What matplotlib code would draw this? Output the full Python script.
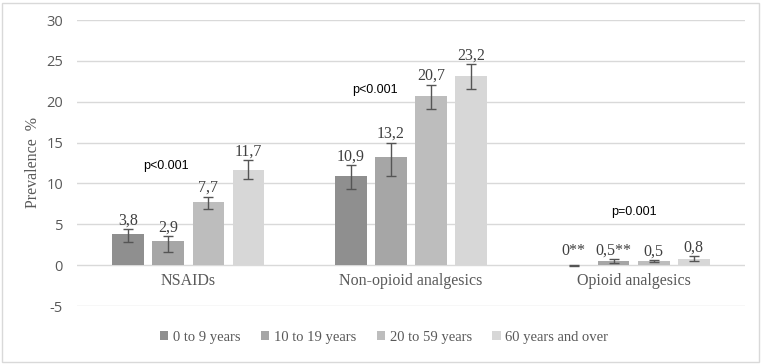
import matplotlib
matplotlib.use("Agg")
import matplotlib.pyplot as plt
import numpy as np
from matplotlib.patches import Rectangle

categories = ["NSAIDs", "Non-opioid analgesics", "Opioid analgesics"]
series = ["0 to 9 years", "10 to 19 years", "20 to 59 years", "60 years and over"]
values = [
    [3.8, 10.9, 0.0],
    [2.9, 13.2, 0.5],
    [7.7, 20.7, 0.5],
    [11.7, 23.2, 0.8],
]
err_low = [
    [1.0, 1.6, 0.1],
    [1.3, 2.3, 0.2],
    [0.8, 1.6, 0.15],
    [1.1, 1.6, 0.25],
]
err_high = [
    [0.6, 1.3, 0.0],
    [0.7, 1.8, 0.25],
    [0.7, 1.4, 0.15],
    [1.2, 1.4, 0.3],
]
value_labels = [
    ["3,8", "10,9", "0**"],
    ["2,9", "13,2", "0,5**"],
    ["7,7", "20,7", "0,5"],
    ["11,7", "23,2", "0,8"],
]
p_labels = ["p<0.001", "p<0.001", "p=0.001"]
p_pos = [(-0.1, 12.1), (-0.16, 21.4), (0.0, 6.5)]
colors = ["#8f8f8f", "#a6a6a6", "#bdbdbd", "#d7d7d7"]
yticks = [-5, 0, 5, 10, 15, 20, 25, 30]

fig = plt.figure(figsize=(7.62, 3.64), dpi=100)
ax = fig.add_axes([77/762, 58/364, 668/762, 286/364])

x = np.arange(len(categories))
step = 0.18
width = 0.142
serif = "Liberation Serif"
gray = "#595959"

for i, s in enumerate(series):
    xs = x + (i - 1.5) * step
    ax.bar(xs, values[i], width=width, color=colors[i], label=s, zorder=2)
    ax.errorbar(xs, values[i], yerr=[err_low[i], err_high[i]], fmt="none",
                ecolor="#555555", elinewidth=1, capsize=3.5, capthick=1, zorder=3)
    for j in range(len(categories)):
        top = max(values[i][j] + err_high[i][j] + 0.55, 1.2)
        ax.text(xs[j], top, value_labels[i][j], ha="center", va="baseline",
                fontsize=11.5, family=serif, color="#404040")

for j, (lab, (dx, yy)) in enumerate(zip(p_labels, p_pos)):
    ax.text(x[j] + dx, yy, lab, ha="center", va="center", fontsize=9,
            family="Liberation Sans", color="black")

ax.set_xlim(-0.5, 2.5)
ax.set_ylim(-5, 30)
ax.set_yticks(yticks)
ax.set_yticklabels([str(t) for t in yticks], fontsize=10.5, color=gray, family="Open Sans")
ax.set_xticks([])
ax.grid(axis="y", color="#d9d9d9", linewidth=1, zorder=0)
ax.set_axisbelow(True)
for sp in ax.spines.values():
    sp.set_visible(False)
ax.tick_params(axis="y", length=0, pad=10)

for j, c in enumerate(categories):
    ax.text(x[j], -2.0, c, ha="center", va="center", fontsize=11.5, family=serif, color=gray)

ax.set_ylabel("Prevalence  %", fontsize=11.5, family=serif, color=gray)
ax.yaxis.set_label_coords(-36/668, 0.5)

leg = fig.legend(loc="center", bbox_to_anchor=(384/762, 1 - 337/364), ncol=4, frameon=False,
                 prop={"family": serif, "size": 10.5}, handlelength=0.6, handleheight=0.6,
                 handletextpad=0.3, columnspacing=1.4)
for t in leg.get_texts():
    t.set_color(gray)

fig.patches.append(Rectangle((2/762, 2/364), 757/762, 359/364, transform=fig.transFigure,
                             fill=False, edgecolor="#d9d9d9", linewidth=1))

fig.savefig("out.png", dpi=100, facecolor="white")
